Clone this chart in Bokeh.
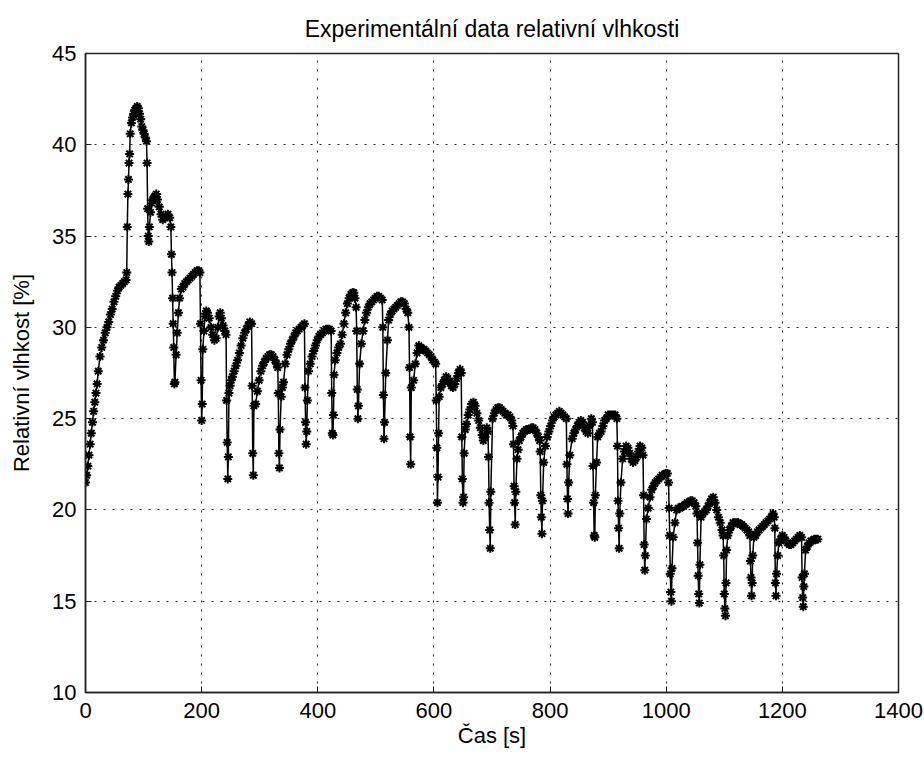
from bokeh.plotting import figure
from bokeh.models import FixedTicker, Range1d, ColumnDataSource
from bokeh.embed import file_html
from bokeh.resources import INLINE

# ---------------- data ----------------
title_text = "Experimentální data relativní vlhkosti"
x_label = "Čas [s]"
y_label = "Relativní vlhkost [%]"
x_ticks = [0, 200, 400, 600, 800, 1000, 1200, 1400]
y_ticks = [10, 15, 20, 25, 30, 35, 40, 45]

time_s = [
    0, 2, 4, 6, 8, 10, 12, 14, 16, 18, 20, 22, 25, 28, 31, 34, 37, 40, 43, 46, 49, 52, 55, 58, 61, 64, 67, 70,
    71, 72, 73, 74, 75, 76, 77, 79, 81, 83, 85, 87, 89, 91, 93, 95, 97, 99, 101, 103, 105,
    106, 107, 108, 109, 110, 112, 114, 116, 118, 120, 122, 124, 127, 130, 133, 136, 139, 142, 145, 147,
    148, 149, 150, 151, 152, 153, 154, 156, 158, 160, 162, 165, 168, 171, 174, 177, 180, 183, 186, 189, 192, 195, 197,
    198, 199, 200, 201, 202, 204, 206, 208, 210, 213, 216, 219, 222, 225, 228, 230, 232, 234, 237, 240, 242,
    243, 244, 245, 246, 247, 249, 251, 253, 256, 259, 262, 265, 268, 271, 274, 277, 280, 283, 286,
    287, 288, 289, 290, 293, 296, 299, 302, 305, 308, 311, 314, 317, 320, 323, 326, 329, 331,
    332, 333, 334, 335, 337, 339, 341, 344, 347, 350, 353, 356, 359, 362, 365, 368, 371, 374, 377,
    378, 379, 380, 381, 382, 384, 387, 390, 393, 396, 399, 402, 405, 408, 411, 414, 417, 420, 423,
    424, 425, 426, 427, 428, 430, 433, 436, 439, 442, 445, 448, 451, 454, 457, 460, 462, 464, 466,
    467, 468, 469, 470, 472, 475, 478, 481, 484, 487, 490, 493, 496, 499, 502, 505, 508, 511,
    512, 513, 514, 515, 517, 520, 522, 525, 528, 531, 534, 537, 540, 543, 546, 549, 552, 555,
    557, 558, 559, 560, 561, 565, 568, 571, 574, 577, 580, 583, 586, 589, 592, 595, 598, 601, 603,
    604, 605, 606, 607, 608, 609, 612, 615, 618, 621, 624, 627, 630, 633, 636, 639, 642, 645, 647,
    648, 649, 650, 651, 652, 654, 656, 659, 662, 665, 668, 671, 674, 677, 680, 683, 685, 688, 691, 693,
    694, 695, 696, 697, 698, 701, 704, 707, 710, 713, 716, 719, 722, 725, 728, 731, 734, 736,
    737, 738, 739, 740, 741, 743, 745, 747, 750, 753, 756, 759, 762, 765, 768, 771, 774, 777, 780, 782,
    783, 784, 785, 786, 787, 789, 792, 795, 798, 801, 804, 807, 810, 813, 816, 819, 822, 825, 828,
    829, 830, 831, 832, 834, 838, 841, 844, 847, 850, 853, 856, 859, 862, 865, 868, 871, 873,
    874, 875, 876, 877, 878, 880, 882, 885, 888, 891, 894, 897, 900, 903, 906, 909, 912, 915,
    916, 917, 918, 919, 920, 922, 925, 928, 931, 934, 937, 940, 943, 946, 949, 952, 955, 958, 960,
    961, 962, 963, 964, 966, 969, 972, 975, 978, 981, 984, 987, 990, 993, 996, 999, 1002, 1004,
    1005, 1006, 1007, 1008, 1009, 1010, 1012, 1015, 1018, 1021, 1024, 1027, 1030, 1033, 1036, 1039, 1042, 1045, 1048, 1051, 1053,
    1054, 1055, 1056, 1057, 1058, 1060, 1063, 1066, 1069, 1072, 1075, 1078, 1081, 1084, 1087, 1090, 1093, 1096, 1098,
    1099, 1100, 1101, 1102, 1103, 1104, 1106, 1109, 1112, 1115, 1118, 1121, 1124, 1127, 1130, 1133, 1136, 1139, 1142, 1144,
    1145, 1146, 1147, 1148, 1149, 1151, 1154, 1157, 1160, 1163, 1166, 1169, 1172, 1175, 1178, 1181, 1184, 1186,
    1187, 1188, 1189, 1190, 1192, 1194, 1197, 1200, 1203, 1206, 1209, 1212, 1215, 1218, 1221, 1224, 1227, 1230, 1233,
    1234, 1235, 1236, 1237, 1238, 1240, 1243, 1246, 1249, 1252, 1255, 1258, 1261,
]

rh_pct = [
    21.5, 21.9, 22.4, 23.0, 23.6, 24.2, 24.8, 25.4, 25.9, 26.4, 26.9, 27.6, 28.4, 28.9, 29.3, 29.7, 30.0, 30.3, 30.7, 31.0, 31.4, 31.7, 32.0, 32.2, 32.3, 32.4, 32.5, 32.6,
    33.0, 35.5, 37.3, 38.1, 39.0, 39.5, 40.6, 41.2, 41.5, 41.7, 41.9, 42.0, 42.1, 42.0, 41.7, 41.4, 41.0, 40.8, 40.6, 40.4, 40.2,
    39.0, 36.5, 35.0, 34.7, 35.5, 36.3, 36.8, 37.0, 37.1, 37.2, 37.3, 37.0, 36.6, 36.2, 35.9, 36.0, 36.1, 36.2, 36.0, 35.5,
    34.0, 33.0, 31.6, 30.2, 28.9, 26.9, 27.0, 28.5, 29.7, 30.8, 31.6, 32.1, 32.2, 32.4, 32.5, 32.6, 32.7, 32.8, 32.9, 33.0, 33.1, 33.1, 33.0,
    30.2, 27.1, 24.9, 25.8, 28.8, 29.8, 30.6, 30.9, 30.8, 30.5, 30.0, 29.6, 29.3, 29.4, 30.0, 30.6, 30.8, 30.5, 30.1, 29.8, 29.6,
    26.0, 23.7, 21.7, 22.9, 26.4, 26.8, 27.1, 27.3, 27.6, 27.9, 28.2, 28.6, 29.0, 29.4, 29.7, 29.9, 30.1, 30.3, 30.2,
    26.8, 23.1, 21.9, 25.7, 25.8, 26.5, 27.1, 27.6, 27.9, 28.1, 28.3, 28.4, 28.5, 28.5, 28.4, 28.2, 28.0, 27.8,
    26.4, 23.1, 22.3, 24.4, 26.2, 26.7, 27.0, 28.0, 28.5, 28.8, 29.1, 29.3, 29.5, 29.7, 29.8, 29.9, 30.0, 30.1, 30.2,
    26.7, 24.8, 23.6, 24.3, 26.0, 27.6, 28.0, 28.4, 28.7, 29.0, 29.3, 29.5, 29.6, 29.7, 29.8, 29.9, 29.9, 29.9, 29.8,
    26.4, 24.2, 24.1, 25.2, 27.4, 28.2, 28.6, 28.9, 29.1, 29.6, 30.2, 30.8, 31.3, 31.6, 31.8, 31.9, 31.9, 31.6, 31.1,
    29.8, 26.6, 25.0, 25.7, 28.0, 29.1, 29.8, 30.4, 30.8, 31.1, 31.3, 31.4, 31.5, 31.6, 31.7, 31.7, 31.6, 31.5,
    30.0, 26.3, 23.9, 24.8, 27.5, 29.3, 30.4, 30.7, 30.9, 31.0, 31.1, 31.2, 31.3, 31.4, 31.4, 31.3, 31.0, 30.8,
    30.0, 27.8, 24.0, 22.5, 26.7, 27.1, 28.0, 28.6, 29.0, 28.9, 28.8, 28.8, 28.7, 28.6, 28.5, 28.4, 28.2, 28.1, 28.0,
    26.0, 23.4, 20.4, 21.8, 24.2, 26.2, 26.7, 26.9, 27.1, 27.3, 27.2, 27.0, 26.8, 26.7, 26.9, 27.2, 27.5, 27.7, 27.5,
    24.0, 21.7, 20.4, 20.7, 23.1, 24.4, 24.7, 25.2, 25.5, 25.8, 25.9, 25.7, 25.3, 24.9, 24.5, 24.1, 23.8, 24.0, 24.5, 24.3,
    22.9, 20.4, 18.9, 17.9, 21.0, 25.0, 25.3, 25.5, 25.6, 25.6, 25.5, 25.4, 25.3, 25.2, 25.2, 25.1, 24.9, 24.6,
    23.6, 21.3, 20.4, 19.2, 21.0, 22.8, 23.3, 23.8, 24.0, 24.2, 24.3, 24.4, 24.4, 24.4, 24.5, 24.5, 24.4, 24.2, 24.0, 23.8,
    23.2, 20.8, 19.6, 18.7, 20.5, 22.6, 23.5, 24.0, 24.3, 24.6, 24.9, 25.1, 25.2, 25.3, 25.4, 25.3, 25.2, 25.1, 25.0,
    22.5, 20.6, 19.8, 21.5, 23.0, 23.9, 24.2, 24.4, 24.6, 24.8, 24.9, 24.8, 24.5, 24.3, 24.2, 24.6, 25.0, 24.8,
    22.4, 20.4, 18.6, 18.5, 20.8, 22.6, 24.0, 24.2, 24.3, 24.6, 24.9, 25.0, 25.2, 25.2, 25.2, 25.2, 25.2, 25.0,
    23.5, 20.5, 19.0, 17.9, 19.8, 21.5, 22.8, 23.2, 23.5, 23.4, 23.1, 22.8, 22.6, 22.7, 22.9, 23.2, 23.5, 23.4, 23.0,
    20.8, 18.1, 16.7, 17.5, 19.5, 20.1, 20.7, 21.1, 21.3, 21.5, 21.6, 21.7, 21.8, 21.9, 21.9, 22.0, 22.0, 21.5,
    20.1, 18.6, 16.5, 15.5, 15.0, 16.8, 18.5, 19.3, 20.0, 20.1, 20.1, 20.2, 20.2, 20.3, 20.4, 20.4, 20.5, 20.5, 20.4, 20.2, 19.8,
    18.2, 16.4, 15.4, 14.9, 17.0, 19.6, 19.8, 19.9, 20.0, 20.2, 20.4, 20.6, 20.7, 20.4, 20.0, 19.6, 19.3, 18.9, 18.6,
    17.5, 15.4, 14.6, 14.2, 16.0, 17.8, 18.6, 18.9, 19.1, 19.3, 19.3, 19.3, 19.3, 19.2, 19.2, 19.1, 19.0, 18.9, 18.8, 18.6,
    17.2, 16.3, 15.3, 16.0, 17.5, 18.5, 18.6, 18.8, 18.9, 19.0, 19.1, 19.2, 19.3, 19.4, 19.5, 19.6, 19.8, 19.6,
    19.0, 16.0, 15.3, 16.5, 17.5, 18.2, 18.4, 18.6, 18.5, 18.3, 18.2, 18.1, 18.1, 18.2, 18.3, 18.4, 18.5, 18.6, 18.5,
    16.3, 15.2, 14.7, 15.8, 16.5, 17.8, 18.0, 18.2, 18.3, 18.3, 18.4, 18.4, 18.4,
]

# ---------------- figure ----------------
FONT = "Liberation Sans"

p = figure(
    width=924, height=760,
    output_backend="svg", toolbar_location=None,
    x_range=Range1d(0, 1400), y_range=Range1d(10, 45),
    min_border_left=85, min_border_right=26,
    min_border_top=53, min_border_bottom=68,
    title=title_text,
)
p.background_fill_color = "white"
p.border_fill_color = "white"
p.outline_line_color = "#222222"
p.outline_line_width = 1.5

p.title.align = "center"
p.title.vertical_align = "top"
p.title.text_font = FONT
p.title.text_font_size = "23px"
p.title.text_font_style = "normal"
p.title.text_color = "black"
p.title.standoff = 20

for ax in (p.xaxis, p.yaxis):
    ax.axis_line_color = "#222222"
    ax.axis_line_width = 1.5
    ax.major_tick_in = 6
    ax.major_tick_out = 0
    ax.minor_tick_line_color = None
    ax.major_tick_line_color = "#222222"
    ax.major_label_text_font = FONT
    ax.major_label_text_font_size = "22px"
    ax.major_label_text_color = "black"
    ax.axis_label_text_font = FONT
    ax.axis_label_text_font_size = "22px"
    ax.axis_label_text_font_style = "normal"
    ax.axis_label_text_color = "black"

p.xaxis.ticker = FixedTicker(ticks=x_ticks)
p.yaxis.ticker = FixedTicker(ticks=y_ticks)
p.xaxis.axis_label = x_label
p.yaxis.axis_label = y_label
p.xaxis.major_label_standoff = 10
p.yaxis.major_label_standoff = 9
p.xaxis.axis_label_standoff = 2
p.yaxis.axis_label_standoff = 15

p.grid.grid_line_color = "black"
p.grid.grid_line_dash = "2 7"
p.grid.grid_line_width = 1
p.grid.grid_line_alpha = 0.85
p.xgrid.ticker = FixedTicker(ticks=x_ticks)
p.ygrid.ticker = FixedTicker(ticks=y_ticks)

src = ColumnDataSource(data=dict(t=time_s, h=rh_pct))
p.line("t", "h", source=src, line_color="black", line_width=1.5)
p.scatter("t", "h", source=src, marker="asterisk", size=9,
          line_color="black", line_width=2.0)

open("out.html", "w").write(file_html(p, INLINE))
